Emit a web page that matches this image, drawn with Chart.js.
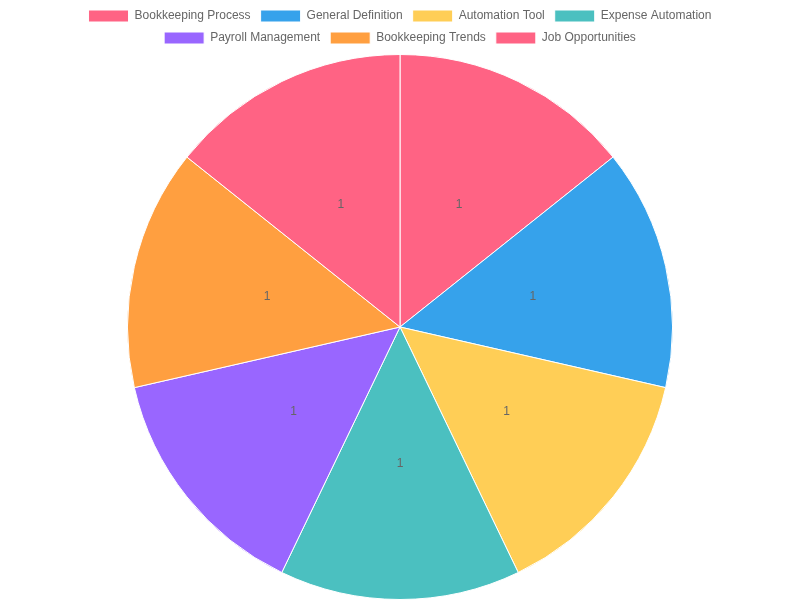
<!DOCTYPE html>
<html>
<head>
<meta charset="utf-8">
<title>Bookkeeping Topics</title>
<script src="https://cdn.jsdelivr.net/npm/chart.js@4"></script>
<style>
  html, body { margin: 0; padding: 0; background: #fff; }
  #wrap { width: 800px; height: 600px; }
</style>
</head>
<body>
<div id="wrap"><canvas id="pieChart"></canvas></div>
<script>
// Chart data
const categories = ['Bookkeeping Process', 'General Definition', 'Automation Tool', 'Expense Automation', 'Payroll Management', 'Bookkeeping Trends', 'Job Opportunities'];
const counts = [1, 1, 1, 1, 1, 1, 1];
const sliceColors = ['#FF6384', '#36A2EB', '#FFCE56', '#4BC0C0', '#9966FF', '#FF9F40', '#FF6384'];

// Draw the value in the middle of each slice
const valueLabels = {
    id: 'valueLabels',
    afterDatasetsDraw(chart) {
        const ctx = chart.ctx;
        const meta = chart.getDatasetMeta(0);
        ctx.save();
        ctx.font = '12px Helvetica, Arial, sans-serif';
        ctx.fillStyle = '#666';
        ctx.textAlign = 'center';
        ctx.textBaseline = 'middle';
        meta.data.forEach((arc, i) => {
            const pos = arc.getCenterPoint();
            ctx.fillText(String(counts[i]), pos.x, pos.y);
        });
        ctx.restore();
    }
};

const ctx = document.getElementById('pieChart').getContext('2d');
new Chart(ctx, {
    type: 'pie',
    data: {
        labels: categories,
        datasets: [{
            data: counts,
            backgroundColor: sliceColors,
            borderColor: '#fff',
            borderWidth: 1
        }]
    },
    options: {
        responsive: true,
        maintainAspectRatio: false,
        animation: false,
        plugins: {
            legend: {
                position: 'top',
                labels: { color: '#666', font: { size: 12 } }
            },
            tooltip: { enabled: false }
        }
    },
    plugins: [valueLabels]
});
</script>
</body>
</html>
